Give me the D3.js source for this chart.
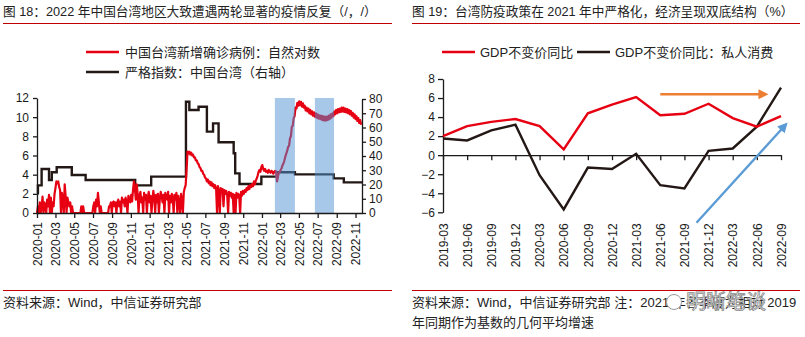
<!DOCTYPE html>
<html>
<head>
<meta charset="utf-8">
<script src="https://cdn.jsdelivr.net/npm/d3@7"></script>
<style>
  body { margin: 0; background: #fff; }
  svg { display: block; font-family: "Liberation Sans", "Noto Sans CJK SC", sans-serif; }
  .axis text { font-size: 12px; fill: #1a1a1a; }
  .axis path, .axis line { stroke: #1a1a1a; stroke-width: 1.3; }
  .title { font-size: 12.7px; fill: #222; }
  .legend, .note { font-size: 13px; fill: #222; }
</style>
</head>
<body>
<svg id="chart" width="805" height="337"></svg>
<script>
// ---- figure 18: daily cases (ln) + stringency index ----
const casesStart = "2020-01-01";
const caseStepDays = 3;
// 2020-01 .. 2021-04, one value every 3 days
const cases2020 = [
  0, 0.7, 0, 1.1, 0, 0.7, 1.7, 0, 1.1, 0.7, 0, 1.4, 0.7, 1.9, 0, 1.6, 0, 1.1, 0.7,
  2.0, 2.6, 3.3, 3.1, 3.3, 2.7, 2.4, 0, 2.1, 1.4, 0, 3.0, 1.8, 0, 1.6, 1.1,
  0.7, 1.1, 0, 0.7, 0, 0, 0, 0, 0, 0, 0, 0, 0, 0.7, 0, 0.7, 0, 0,
  0, 0, 0, 0, 0, 0, 0, 0, 0.7, 1.1, 0, 1.4, 0.7, 2.1, 1.1, 0, 0.7, 0,
  0, 0, 0, 0, 0, 0, 0, 0.7, 0.7, 1.1, 0, 1.1, 1.2, 0.7, 1.1, 0,
  1.1, 1.4, 0.7, 1.2, 0, 1.6, 1.1, 1.4, 0.7, 1.6, 1.1, 0, 1.8, 1.4, 1.1, 1.9, 1.2,
  2.4, 3.3, 2.6, 1.4, 3.0, 2.0, 0, 1.8, 2.2, 1.1, 1.6, 0, 2.1, 1.4, 1.9, 0, 1.6
];
const cases2021a = [
  2.2, 1.1, 1.8, 0, 1.4, 2.3, 1.6, 0, 1.9, 1.1, 2.0, 0, 1.4, 2.2, 1.8,
  1.1, 1.9, 0, 2.1, 1.6, 1.4, 2.2, 0, 1.8, 1.1, 2.0, 1.6, 0, 1.9, 1.4,
  2.1, 0, 1.8, 1.1, 0, 2.0, 1.4, 0, 2.2, 2.6, 2.9
];
// 2021-05 .. 2022-11
const cases2021b = [
  4.5, 6.4, 6.2, 6.4, 6.1, 6.3, 6.0, 6.1, 5.8, 5.8,
  5.5, 5.5, 5.2, 5.1, 4.8, 4.7, 4.4, 4.4, 4.1, 4.0,
  3.7, 3.6, 3.3, 3.5, 3.1, 3.3, 2.9, 3.2, 2.8, 3.0,
  2.6, 2.9, 2.5, 0, 2.8, 2.3, 0, 2.6, 2.2, 2.5,
  0.7, 2.4, 2.0, 2.3, 1.9, 0, 2.2, 1.8, 2.1, 1.6,
  2.0, 0, 1.9, 0, 2.1, 1.6, 2.0, 1.8, 0, 2.2,
  1.8, 2.3, 2.0, 2.4, 2.2, 2.6, 2.4, 2.8, 2.5, 2.9,
  2.7, 3.0, 2.8, 3.3, 3.0, 3.4, 3.6, 3.9, 4.3, 4.5
];
const cases2022 = [
  4.3, 4.8, 5.0, 4.6, 4.4, 4.6, 4.3, 4.4, 4.2, 4.5,
  4.3, 4.2, 4.4, 4.3, 4.1, 4.3, 4.4, 4.3, 3.3, 3.8,
  4.2, 4.3, 4.5, 4.7, 5.0, 5.2, 5.5, 5.9, 6.2, 6.5,
  6.9, 7.0, 7.8, 8.0, 9.0, 9.1, 9.9, 10.1, 11.0, 10.9,
  11.5, 11.2, 11.65, 11.25, 11.6, 11.1, 11.45, 11.0, 11.2, 10.7,
  11.0, 10.6, 10.9, 10.4, 10.75, 10.3, 10.6, 10.15, 10.5, 10.05,
  10.4, 9.95, 10.3, 9.85, 10.2, 9.8, 10.15, 9.7, 10.1, 9.65,
  10.05, 9.65, 10.05, 9.7, 10.15, 9.8, 10.3, 9.95, 10.4, 10.1,
  10.6, 10.3, 10.75, 10.4, 10.85, 10.5, 10.9, 10.55, 11.0, 10.6,
  11.0, 10.55, 10.9, 10.5, 10.85, 10.4, 10.75, 10.3, 10.65, 10.15,
  10.45, 9.95, 10.3, 9.8, 10.1, 9.6, 9.9, 9.4, 9.7, 9.2
];
const stringencyDates = [
  "2020-01-01", "2020-01-04", "2020-01-16", "2020-02-09", "2020-02-18", "2020-03-05",
  "2020-04-23", "2020-06-07", "2020-11-15", "2021-01-06", "2021-04-29", "2021-05-10",
  "2021-06-09", "2021-07-06", "2021-07-26", "2021-08-13", "2021-10-01", "2021-10-06",
  "2021-10-20", "2021-12-30", "2022-02-19", "2022-04-18", "2022-08-22", "2022-09-24",
  "2022-11-22"
];
const stringencyValues = [
  13.9, 19.4, 30.9, 23.2, 28.6, 32.1, 26.7, 23.2, 19.4, 25.5, 78.1, 72.3,
  74.6, 57.1, 62.9, 49.6, 41.9, 27.8, 20.4, 25.5, 28.6, 27.1, 24.3, 21.5, 21.5
];
const bandStarts = ["2022-02-12", "2022-06-22"];
const bandEnds = ["2022-04-18", "2022-08-23"];
const monthTicks = [
  "2020-01", "2020-03", "2020-05", "2020-07", "2020-09", "2020-11",
  "2021-01", "2021-03", "2021-05", "2021-07", "2021-09", "2021-11",
  "2022-01", "2022-03", "2022-05", "2022-07", "2022-09", "2022-11"
];
const leftTicks = [0, 2, 4, 6, 8, 10, 12];
const rightTicks = [0, 10, 20, 30, 40, 50, 60, 70, 80];

// ---- figure 19: quarterly GDP ----
const quarters = [
  "2019-03", "2019-06", "2019-09", "2019-12", "2020-03", "2020-06", "2020-09", "2020-12",
  "2021-03", "2021-06", "2021-09", "2021-12", "2022-03", "2022-06", "2022-09"
];
const gdpYoY = [2.0, 3.05, 3.5, 3.8, 3.05, 0.6, 4.4, 5.3, 6.1, 4.2, 4.35, 5.4, 3.9, 3.0, 4.1];
const consumptionYoY = [1.75, 1.55, 2.6, 3.2, -2.1, -5.7, -1.3, -1.45, 0.15, -3.15, -3.5, 0.45, 0.7, 3.0, 7.1];
const gdpTicks = [-6, -4, -2, 0, 2, 4, 6, 8];
// annotation arrows: [quarter index, value]
const orangeArrow = [[9, 6.4], [13.15, 6.4]];
const blueArrow = [[10.5, -7.1], [14.05, 2.8]];

const red = "#e60012";
const black = "#231815";

const svg = d3.select("#chart");
const parseDay = d3.timeParse("%Y-%m-%d");
const parseMonth = d3.timeParse("%Y-%m");

const defs = svg.append("defs");
[["head-orange", "#ed7d31"], ["head-blue", "#5b9bd5"]].forEach(([id, c]) => {
  defs.append("marker")
    .attr("id", id)
    .attr("viewBox", "0 0 10 10")
    .attr("refX", 2).attr("refY", 5)
    .attr("markerWidth", 4.2).attr("markerHeight", 4.2)
    .attr("orient", "auto")
    .append("path").attr("d", "M0,0L10,5L0,10Z").attr("fill", c);
});

function titleBlock(x0, x1, text) {
  svg.append("text").attr("class", "title").attr("x", x0).attr("y", 16).text(text);
  svg.append("line").attr("x1", x0).attr("x2", x1).attr("y1", 23.5).attr("y2", 23.5)
    .attr("stroke", "#c00000").attr("stroke-width", 1);
  svg.append("line").attr("x1", x0).attr("x2", x1).attr("y1", 290.5).attr("y2", 290.5)
    .attr("stroke", "#c00000").attr("stroke-width", 1);
}

function rotateLabels(g, gap) {
  g.selectAll(".tick text")
    .attr("transform", "rotate(-90)")
    .attr("text-anchor", "end")
    .attr("x", -gap)
    .attr("y", 0)
    .attr("dy", "0.35em");
}

// ================= left panel =================
{
  titleBlock(3, 392, "图 18：2022 年中国台湾地区大致遭遇两轮显著的疫情反复（/，/）");

  const x = d3.scaleTime()
    .domain([parseDay("2020-01-01"), parseDay("2022-11-22")])
    .range([37, 362]);
  const y = d3.scaleLinear().domain([0, 12]).range([213, 98]);
  const y2 = d3.scaleLinear().domain([0, 80]).range([213, 99]);

  const start = parseDay(casesStart);
  const cases = cases2020.concat(cases2021a, cases2021b, cases2022)
    .map((v, i) => ({ date: d3.timeDay.offset(start, caseStepDays * i), v }));
  const stringency = stringencyDates.map((d, i) => ({ date: parseDay(d), v: stringencyValues[i] }));

  svg.append("path")
    .datum(stringency)
    .attr("fill", "none")
    .attr("stroke", black)
    .attr("stroke-width", 2.4)
    .attr("d", d3.line().curve(d3.curveStepAfter).x((d) => x(d.date)).y((d) => y2(d.v)));

  svg.append("path")
    .datum(cases)
    .attr("fill", "none")
    .attr("stroke", red)
    .attr("stroke-width", 2.2)
    .attr("stroke-linejoin", "round")
    .attr("d", d3.line().x((d) => x(d.date)).y((d) => y(d.v)));

  svg.append("g")
    .selectAll("rect")
    .data(bandStarts.map((s, i) => [parseDay(s), parseDay(bandEnds[i])]))
    .join("rect")
    .attr("x", (d) => x(d[0]))
    .attr("width", (d) => x(d[1]) - x(d[0]))
    .attr("y", y(12))
    .attr("height", y(0) - y(12))
    .attr("fill", "rgb(80,145,212)")
    .attr("fill-opacity", 0.5);

  svg.append("g")
    .attr("class", "axis")
    .attr("transform", `translate(${x.range()[0]},0)`)
    .call(d3.axisLeft(y).tickValues(leftTicks).tickSize(4).tickPadding(4).tickSizeOuter(0));

  svg.append("g")
    .attr("class", "axis")
    .attr("transform", `translate(${x.range()[1]},0)`)
    .call(d3.axisRight(y2).tickValues(rightTicks).tickSize(4).tickPadding(3).tickSizeOuter(0));

  const xAxisG = svg.append("g")
    .attr("class", "axis")
    .attr("transform", `translate(0,${y(0)})`)
    .call(d3.axisBottom(x)
      .tickValues(monthTicks.map(parseMonth))
      .tickFormat(d3.timeFormat("%Y-%m"))
      .tickSize(5)
      .tickSizeOuter(0));
  rotateLabels(xAxisG, 9);

  // legend
  const legend = [["中国台湾新增确诊病例：自然对数", red], ["严格指数：中国台湾（右轴）", black]];
  legend.forEach(([label, c], i) => {
    const ly = 52 + i * 20;
    svg.append("line").attr("x1", 86).attr("x2", 119).attr("y1", ly).attr("y2", ly)
      .attr("stroke", c).attr("stroke-width", 2.5);
    svg.append("text").attr("class", "legend").attr("x", 125).attr("y", ly).attr("dy", "0.36em").text(label);
  });

  svg.append("text").attr("class", "note").attr("x", 3).attr("y", 302).attr("dy", "0.36em")
    .text("资料来源：Wind，中信证券研究部");
}

// ================= right panel =================
{
  titleBlock(412, 800, "图 19：台湾防疫政策在 2021 年中严格化，经济呈现双底结构（%）");

  const x = d3.scaleLinear().domain([0, quarters.length - 1]).range([443, 781]);
  const y = d3.scaleLinear().domain([-6, 8]).range([212.3, 79]);

  svg.append("g")
    .attr("class", "axis")
    .attr("transform", `translate(0,${y(0)})`)
    .call(d3.axisBottom(x).tickValues(d3.range(quarters.length)).tickFormat(() => "").tickSize(5).tickSizeOuter(0));

  const labelAxis = svg.append("g")
    .attr("class", "axis")
    .attr("transform", `translate(0,${y(-6)})`)
    .call(d3.axisBottom(x).tickValues(d3.range(quarters.length)).tickFormat((i) => quarters[i]).tickSize(0));
  labelAxis.select(".domain").remove();
  rotateLabels(labelAxis, 11);

  svg.append("g")
    .attr("class", "axis")
    .attr("transform", `translate(${x(0)},0)`)
    .call(d3.axisLeft(y).tickValues(gdpTicks).tickSize(5).tickPadding(3).tickSizeOuter(0));

  const line = d3.line().x((d, i) => x(i)).y((d) => y(d));
  svg.append("path").datum(consumptionYoY)
    .attr("fill", "none").attr("stroke", black).attr("stroke-width", 2.4).attr("d", line);
  svg.append("path").datum(gdpYoY)
    .attr("fill", "none").attr("stroke", red).attr("stroke-width", 2.4).attr("d", line);

  [[orangeArrow, "#ed7d31", "head-orange"], [blueArrow, "#5b9bd5", "head-blue"]].forEach(([pts, c, id]) => {
    svg.append("line")
      .attr("x1", x(pts[0][0])).attr("y1", y(pts[0][1]))
      .attr("x2", x(pts[1][0])).attr("y2", y(pts[1][1]))
      .attr("stroke", c).attr("stroke-width", 2.4)
      .attr("marker-end", `url(#${id})`);
  });

  // legend
  const legend = [["GDP不变价同比", red, 442], ["GDP不变价同比：私人消费", black, 577]];
  legend.forEach(([label, c, lx]) => {
    svg.append("line").attr("x1", lx).attr("x2", lx + 33).attr("y1", 52).attr("y2", 52)
      .attr("stroke", c).attr("stroke-width", 2.5);
    svg.append("text").attr("class", "legend").attr("x", lx + 38).attr("y", 52).attr("dy", "0.36em").text(label);
  });

  svg.append("text").attr("class", "note").attr("x", 412).attr("y", 302).attr("dy", "0.36em")
    .text("资料来源：Wind，中信证券研究部 注：2021 年各季度为相对 2019");
  svg.append("text").attr("class", "note").attr("x", 412).attr("y", 322).attr("dy", "0.36em")
    .text("年同期作为基数的几何平均增速");

  // watermark over the note, as in the source image
  svg.append("circle").attr("cx", 674).attr("cy", 302).attr("r", 7.5)
    .attr("fill", "#fff").attr("stroke", "#999").attr("stroke-width", 1);
  svg.append("text").attr("x", 686).attr("y", 302).attr("dy", "0.36em")
    .attr("font-size", 20)
    .attr("fill", "#fff").attr("stroke", "#8c8c8c").attr("stroke-width", 0.8)
    .text("明晰笔谈");
}
</script>
</body>
</html>
